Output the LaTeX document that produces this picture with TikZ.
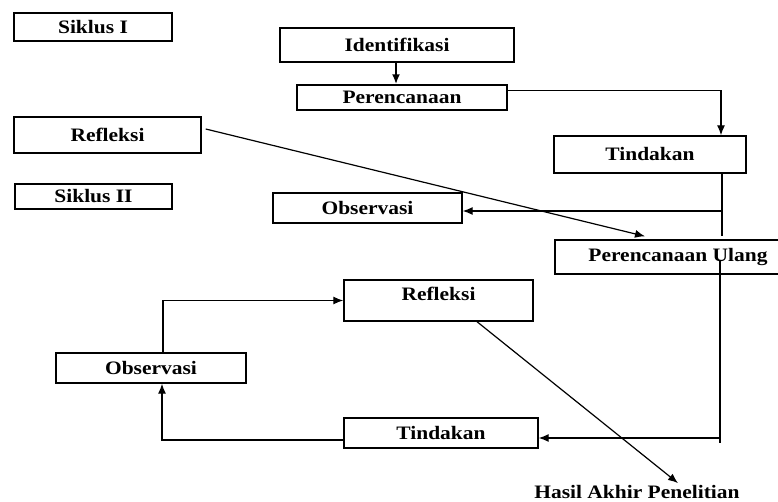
\documentclass[tikz,border=0pt]{standalone}
\usepackage{fontspec}
\setmainfont[FakeStretch=1.13]{Liberation Serif}
\usetikzlibrary{arrows.meta,calc}
\begin{document}
\begin{tikzpicture}[x=1pt,y=-1pt,
  box/.style={draw=black,line width=1.4pt,rectangle,inner sep=0pt,align=center,
    font=\fontsize{19}{21}\selectfont\bfseries},
  conn/.style={draw=black,line width=1.2pt},
  arr/.style={conn,-{Latex[length=10pt,width=8pt]}},
  lbl/.style={font=\fontsize{19}{21}\selectfont\bfseries,inner sep=0pt}]
\useasboundingbox (0,0) rectangle (778,502);
\clip (0,0) rectangle (778,502);

\node[box,minimum width=158pt,minimum height=28pt] (s1) at (93,27) {Siklus I};
\node[box,minimum width=187pt,minimum height=36pt] (ref1) at (107.5,135) {Refleksi};
\node[box,minimum width=234pt,minimum height=34pt] (id) at (397,45) {Identifikasi};
\node[box,minimum width=210pt,minimum height=25pt] (per) at (402,97.5) {Perencanaan};
\node[box,minimum width=192pt,minimum height=37pt] (tin1) at (650,154.5) {Tindakan};
\node[box,minimum width=189pt,minimum height=30pt] (obs1) at (367.5,208) {Observasi};
\node[box,minimum width=157pt,minimum height=25pt] (s2) at (93.5,196.5) {Siklus II};
\node[box,minimum width=246pt,minimum height=34pt] (pu) at (678,257) {Perencanaan Ulang};
\node[box,minimum width=189pt,text height=21pt,text depth=20pt] (ref2) at (438.5,300.5) {Refleksi};
\node[box,minimum width=190pt,minimum height=30pt] (obs2) at (151,368) {Observasi};
\node[box,minimum width=194pt,minimum height=30pt] (tin2) at (441,433) {Tindakan};
\node[lbl] (hasil) at (637,492) {Hasil Akhir Penelitian};

% Siklus I connectors
\draw[arr,line width=2pt] ([xshift=-1pt]id.south) -- ([xshift=-1pt]id.south |- per.north);
\draw[arr] ([yshift=7pt]per.east) -| ([xshift=71pt]tin1.north);
\coordinate (j1) at ([xshift=72pt]tin1.south);
\coordinate (j2) at ([xshift=44pt,yshift=3pt]pu.north);
\draw[conn] (j1) -- (j2);
\coordinate (j3) at (722,211);
\draw[arr] (j3) -- (j3 -| obs1.east);
\draw[arr] ([xshift=4pt,yshift=6pt]ref1.east) -- ([xshift=-33pt,yshift=3pt]pu.north);

% Siklus II connectors
\coordinate (k1) at ([xshift=42pt,yshift=-3pt]pu.center);
\coordinate (k2) at (720,443);
\draw[conn] (k1) -- (k2);
\coordinate (k3) at (720,438);
\draw[arr] (k3) -- (k3 -| tin2.east);
\draw[arr] ([yshift=-7pt]tin2.west) -| ([xshift=11pt]obs2.south);
\draw[arr] ([xshift=12pt]obs2.north) |- (ref2.west);
\draw[arr] ([xshift=38.5pt]ref2.south) -- ([xshift=41pt,yshift=2pt]hasil.north);
\end{tikzpicture}
\end{document}
